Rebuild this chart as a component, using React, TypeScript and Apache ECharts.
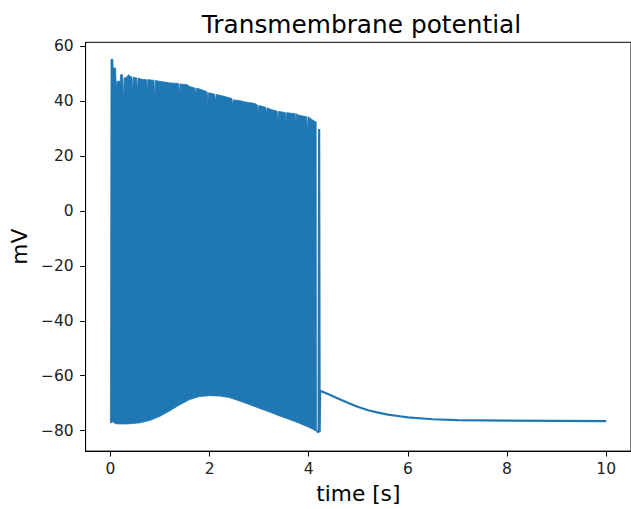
import React, { useEffect, useRef } from "react";
import * as echarts from "echarts";

// Upper envelope of the spike burst (peak voltages, with the lower spikes as notches)
const topTimes = [
  0.0, 0.003, 0.012, 0.05, 0.055, 0.105, 0.119, 0.133, 0.199, 0.205, 0.24, 0.251, 0.265, 0.279,
  0.33, 0.364, 0.4, 0.436, 0.45, 0.464, 0.529, 0.543, 0.557, 0.6, 0.662, 0.728, 0.742, 0.756,
  0.88, 0.894, 0.908, 0.98, 1.1, 1.2, 1.377, 1.391, 1.405, 1.556, 1.58, 1.708, 1.722, 1.736,
  1.8, 1.921, 1.953, 1.967, 1.981, 2.105, 2.119, 2.133, 2.25, 2.4, 2.45, 2.464, 2.478, 2.6,
  2.7, 2.914, 2.966, 2.98, 2.994, 3.132, 3.146, 3.16, 3.245, 3.363, 3.377, 3.391, 3.529, 3.543,
  3.557, 3.576, 3.728, 3.742, 3.756, 3.8, 3.96, 3.974, 3.988, 4.05, 4.139, 4.15,
];
const topValues = [
  -72, -55, 55.3, 55.3, 52.1, 52.1, 44.3, 47.3, 47.3, 49.7, 49.7, 48.5, 40.0, 48.5,
  48.8, 49.7, 49.1, 48.8, 43.7, 48.8, 48.5, 43.7, 48.5, 48.2, 47.9, 47.9, 43.7, 47.9,
  47.6, 40.6, 47.6, 47.3, 47.0, 46.7, 46.5, 42.5, 46.3, 46.0, 45.5, 44.8, 42.1, 44.8,
  44.5, 43.7, 43.3, 39.5, 43.1, 42.6, 39.7, 42.5, 42.0, 41.3, 41.0, 38.5, 40.5, 40.3,
  39.8, 39.2, 38.6, 35.9, 38.5, 37.8, 35.3, 37.6, 37.0, 36.4, 31.7, 36.3, 35.9, 32.3,
  35.9, 35.8, 35.5, 31.5, 35.5, 34.9, 34.4, 29.3, 34.4, 33.5, 32.5, 32.5,
];

// Lower envelope of the burst (after-spike troughs)
const bottomTimes = [
  0.0, 0.05, 0.1, 0.2, 0.35, 0.6, 0.8, 1.0, 1.2, 1.4, 1.6, 1.8, 2.0, 2.2, 2.4, 2.6, 2.8, 3.0,
  3.2, 3.4, 3.6, 3.8, 4.0, 4.155,
];
const bottomValues = [
  -77.3, -76.8, -77.5, -77.6, -77.6, -77.2, -76.3, -74.8, -72.8, -70.6, -68.7, -67.6, -67.3,
  -67.4, -68.0, -69.2, -70.5, -71.9, -73.2, -74.6, -75.9, -77.3, -78.8, -80.2,
];

// Last isolated spike and the relaxation back to rest
const tailTimes = [
  4.155, 4.2, 4.21, 4.22, 4.23, 4.4, 4.6, 4.8, 5.0, 5.2, 5.4, 5.6, 5.8, 6.0, 6.5, 7.0, 8.0, 9.0, 10.0,
];
const tailValues = [
  -80.2, -80.6, 29.9, -80.6, -65.5, -66.8, -68.4, -70.0, -71.4, -72.6, -73.5, -74.2, -74.7,
  -75.2, -75.9, -76.2, -76.4, -76.5, -76.6,
];

const xTicks = [0, 2, 4, 6, 8, 10];
const yTicks = [-80, -60, -40, -20, 0, 20, 40, 60];

const BLUE = "#1f77b4";
const FONT = "DejaVu Sans";

const fmt = (v: number) => (v < 0 ? "\u2212" + Math.abs(v) : String(v));

export default function App() {
  const ref = useRef<HTMLDivElement>(null);

  useEffect(() => {
    if (!ref.current) return;
    const chart = echarts.init(ref.current, undefined, { renderer: "svg" });

    const polygon: number[][] = [];
    topTimes.forEach((t, i) => polygon.push([t, topValues[i]]));
    for (let i = bottomTimes.length - 1; i >= 0; i--) polygon.push([bottomTimes[i], bottomValues[i]]);

    const tail = tailTimes.map((t, i) => [t, tailValues[i]]);

    chart.setOption({
      animation: false,
      backgroundColor: "#fff",
      textStyle: { fontFamily: FONT },
      graphic: [
        {
          type: "text",
          x: 361.5,
          y: 24.4,
          style: {
            text: "Transmembrane potential",
            fontFamily: FONT,
            fontSize: 24.8,
            fill: "#000",
            textAlign: "center",
            textVerticalAlign: "middle",
          },
        },
      ],
      grid: {
        left: 85,
        right: -7.5,
        top: 42.3,
        bottom: 52.3,
        show: true,
        borderColor: "#000",
        borderWidth: 1,
        backgroundColor: "transparent",
      },
      xAxis: {
        type: "value",
        min: -0.5,
        max: 10.5,
        name: "time [s]",
        nameLocation: "middle",
        nameGap: 30,
        nameTextStyle: { fontFamily: FONT, fontSize: 21.7, color: "#000" },
        axisLine: { show: true, onZero: false, lineStyle: { color: "#000", width: 1 } },
        axisTick: { show: true, length: 5.4, customValues: xTicks, lineStyle: { color: "#000" } },
        axisLabel: {
          customValues: xTicks,
          formatter: fmt,
          fontFamily: FONT,
          fontSize: 15.5,
          color: "#222",
          margin: 10,
        },
        splitLine: { show: false },
      },
      yAxis: {
        type: "value",
        min: -87.5,
        max: 61.5,
        name: "mV",
        nameLocation: "middle",
        nameGap: 55,
        nameRotate: 90,
        nameTextStyle: { fontFamily: FONT, fontSize: 21.7, color: "#000" },
        axisLine: { show: true, onZero: false, lineStyle: { color: "#000", width: 1 } },
        axisTick: { show: true, length: 5.4, customValues: yTicks, lineStyle: { color: "#000" } },
        axisLabel: {
          customValues: yTicks,
          formatter: fmt,
          fontFamily: FONT,
          fontSize: 15.5,
          color: "#222",
          margin: 12,
        },
        splitLine: { show: false },
      },
      series: [
        {
          type: "custom",
          name: "burst",
          data: [[0, 0]],
          z: 2,
          renderItem: (_params: any, api: any) => {
            const pts = polygon.map((p) => api.coord(p));
            return {
              type: "polygon",
              shape: { points: pts },
              style: { fill: BLUE, stroke: BLUE, lineWidth: 0.8 },
            };
          },
        },
        {
          type: "line",
          name: "tail",
          data: tail,
          showSymbol: false,
          z: 3,
          lineStyle: { color: BLUE, width: 2.2 },
        },
      ],
    });

    return () => chart.dispose();
  }, []);

  return (
    <div
      ref={ref}
      style={{ position: "fixed", left: 0, top: 0, width: 631, height: 509, overflow: "hidden" }}
    />
  );
}
